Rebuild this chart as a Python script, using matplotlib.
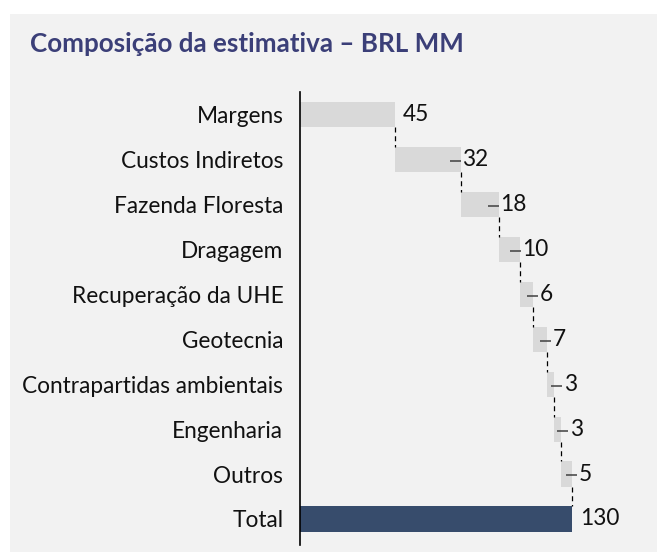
import matplotlib
matplotlib.use("Agg")
import matplotlib.pyplot as plt
from matplotlib.patches import Rectangle

plt.rcParams['font.family'] = ['Lato', 'DejaVu Sans']

# data (BRL MM)
categories = ['Margens', 'Custos Indiretos', 'Fazenda Floresta', 'Dragagem',
              'Recuperação da UHE', 'Geotecnia', 'Contrapartidas ambientais',
              'Engenharia', 'Outros']
values = [45.3, 31.8, 18.2, 10.1, 6.2, 6.8, 3.2, 3.1, 5.3]
labels = ['45', '32', '18', '10', '6', '7', '3', '3', '5']
total_label = 'Total'
total_value = 130.0
total_text = '130'

bar_gray = '#d9d9d9'
bar_navy = '#374c6c'
bg = '#f2f2f2'
title_color = '#3b3f78'

W, H = 657, 552
fig = plt.figure(figsize=(W / 100, H / 100), dpi=100)
fig.patch.set_facecolor('white')
fig.patches.append(Rectangle((10 / W, 0), 1, 1 - 14 / H, transform=fig.transFigure,
                             facecolor=bg, edgecolor='none', zorder=-5))

fig.text(30 / W, 1 - 44 / H, 'Composição da estimativa – BRL MM', fontsize=18.7,
         fontweight='bold', color=title_color, va='center', ha='left')

ax = fig.add_axes([300 / W, 7 / H, (W - 300) / W, (545 - 92) / H])
ax.set_facecolor('none')
ax.set_zorder(2)

h = 0.56
start = 0.0
starts = []
for i, v in enumerate(values):
    starts.append(start)
    ax.barh(i, v, left=start, height=h, color=bar_gray, zorder=2)
    start += v
n = len(values)
ax.barh(n, total_value, left=0, height=h, color=bar_navy, zorder=2)

# dashed connectors
ends = [s + v for s, v in zip(starts, values)]
for i, e in enumerate(ends):
    ax.plot([e, e], [i + h / 2, i + 1 - h / 2], color='black', lw=0.9,
            ls=(0, (4, 3)), zorder=3)

# value labels, small bars get a short leader line
fs = 16.3
for i, (s, v, e, t) in enumerate(zip(starts, values, ends, labels)):
    if i == 0:
        ax.text(e + 3.8, i, t, va='center', ha='left', fontsize=fs, color='#111111')
        continue
    xs = max(s + v / 2, e - 5.5)
    xe = xs + 5.2
    ax.plot([xs, xe], [i + 0.03, i + 0.03], color='#404040', lw=1.1, zorder=4,
            solid_capstyle='butt')
    ax.text(xe + 0.9, i, t, va='center', ha='left', fontsize=fs, color='#111111')
ax.text(total_value + 3.8, n, total_text, va='center', ha='left', fontsize=fs,
        color='#111111')

ax.set_xlim(0, (W - 300) / 2.09)
ax.set_ylim(n + 0.58, -0.51)
ax.set_yticks(range(n + 1))
ax.set_yticklabels(categories + [total_label], fontsize=fs, color='#111111')
ax.tick_params(axis='y', length=0, pad=12)
ax.set_xticks([])
for sp in ['top', 'right', 'bottom']:
    ax.spines[sp].set_visible(False)
ax.spines['left'].set_linewidth(1.2)
ax.spines['left'].set_color('black')

fig.savefig('out.png', dpi=100, facecolor='white')
